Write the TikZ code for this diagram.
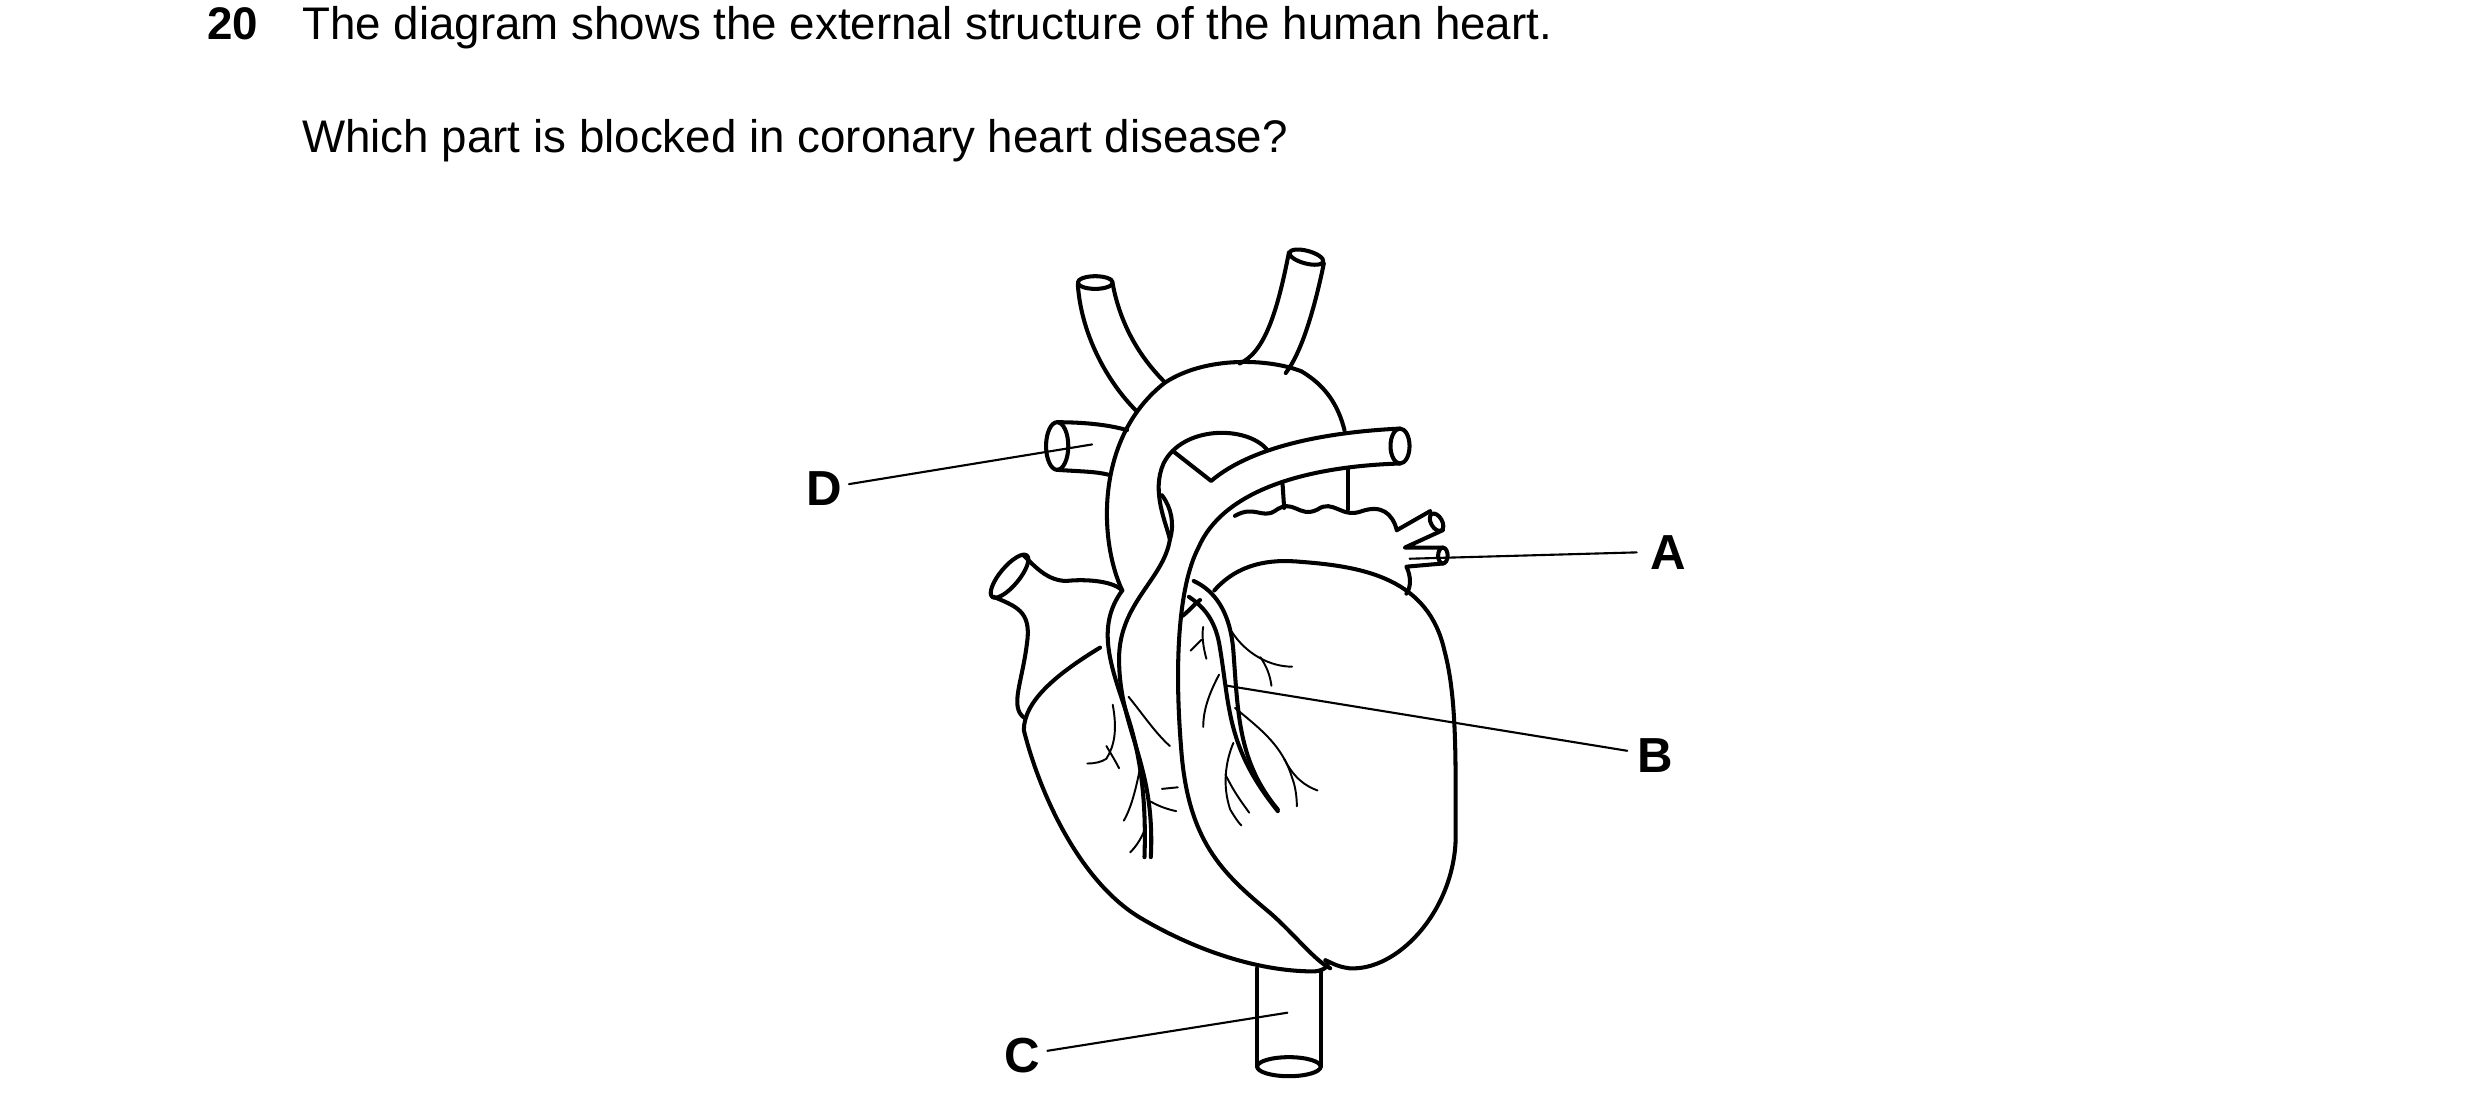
\documentclass[tikz,border=0pt]{standalone}
\usepackage{fontspec}
\setmainfont{Liberation Sans}
\usetikzlibrary{calc}

\begin{document}
\begin{tikzpicture}[
  x=0.015873cm, y=-0.015873cm,
  line join=round, line cap=round,
  ]
  \tikzstyle{outline}=[draw, line width=1.15pt]
  \tikzstyle{vein}=[draw, line width=0.55pt]
  \tikzstyle{pointer}=[draw, line width=0.6pt]
  \tikzstyle{letter}=[font=\fontsize{14}{16}\selectfont\bfseries, inner sep=1pt]
  \useasboundingbox (0,0) rectangle (1563,704);
  % question text
  \node(num)[anchor=base west, inner sep=0, font=\fontsize{13}{15}\selectfont\bfseries] at (130,25) {20};
  \node(q1)[anchor=base west, inner sep=0, font=\fontsize{13}{15}\selectfont] at (190,25) {The diagram shows the external structure of the human heart.};
  \node(q2)[anchor=base west, inner sep=0, font=\fontsize{13}{15}\selectfont] at (190,96) {Which part is blocked in coronary heart disease?};
  % vessels on top
  \draw[outline] (690,178) ellipse [x radius=11, y radius=4];
  \draw[outline] (679,179) .. controls (681,210) and (697,240) .. (716,259);
  \draw[outline] (701,179) .. controls (706,205) and (718,225) .. (734,241);
  \draw[outline, rotate around={-15:(823,162)}] (823,162) ellipse [x radius=11, y radius=4];
  \draw[outline] (812,159) .. controls (805,195) and (797,222) .. (781,229);
  \draw[outline] (834,166) .. controls (828,195) and (820,222) .. (810,235);
  % superior vena cava
  \draw[outline] (666,281) ellipse [x radius=7, y radius=15];
  \draw[outline] (666,266) .. controls (685,266) and (700,268) .. (710,271);
  \draw[outline] (666,296) .. controls (680,297) and (690,297) .. (698,299);
  % aorta
  \draw[outline] (707,372) .. controls (692,340) and (690,275) .. (734,241)
     .. controls (760,224) and (800,226) .. (820,234)
     .. controls (835,243) and (843,255) .. (847,271);
  \draw[outline] (798,283) .. controls (785,268) and (745,268) .. (733,292)
     .. controls (725,310) and (735,330) .. (737,340)
     .. controls (733,365) and (705,380) .. (705,415)
     .. controls (705,460) and (728,480) .. (725,540);
  \draw[outline] (707,372) .. controls (690,395) and (700,420) .. (710,450)
     .. controls (720,480) and (722,510) .. (721,540);
  \draw[outline] (732,312) .. controls (738,320) and (740,330) .. (737,340);
  % pulmonary artery
  \draw[outline] (740,285) -- (763,303) .. controls (790,280) and (840,272) .. (882,270);
  \draw[outline] (882,281) ellipse [x radius=6, y radius=11];
  \draw[outline] (882,292) .. controls (820,294) and (770,310) .. (755,345)
     .. controls (742,370) and (740,420) .. (744,470)
     .. controls (748,530) and (770,550) .. (800,575)
     .. controls (815,588) and (828,605) .. (838,610);
  \draw[outline] (849,295) -- (849,321);
  \draw[outline] (808,305) -- (809,320);
  % left atrium
  \draw[outline] (778,325) .. controls (790,318) and (795,327) .. (803,322)
     .. controls (815,313) and (818,327) .. (830,321)
     .. controls (840,314) and (845,327) .. (858,322)
     .. controls (870,318) and (877,323) .. (880,334);
  \draw[outline] (880,334) -- (901,322);
  \draw[outline, rotate around={30:(905,329)}] (905,329) ellipse [x radius=3.5, y radius=6];
  \draw[outline] (909,334) -- (885,345) -- (909,345);
  \draw[outline] (909,350) ellipse [x radius=3, y radius=5];
  \draw[outline] (909,355) -- (886,357) .. controls (889,363) and (889,370) .. (886,374);
  % left ventricle
  \draw[outline] (765,372) .. controls (780,355) and (800,352) .. (820,354)
     .. controls (860,357) and (900,365) .. (910,410)
     .. controls (918,440) and (917,480) .. (917,530)
     .. controls (915,575) and (880,612) .. (850,610)
     .. controls (842,609) and (838,606) .. (835,605);
  % right ventricle and atrium
  \draw[outline] (693,408) .. controls (665,425) and (645,442) .. (645,460)
     .. controls (655,500) and (680,555) .. (718,578)
     .. controls (750,597) and (790,612) .. (828,612)
     .. controls (838,611) and (838,605) .. (835,605);
  \draw[outline] (707,372) .. controls (700,365) and (680,365) .. (672,366)
     .. controls (660,366) and (652,357) .. (645,350);
  \draw[outline, rotate around={50:(636,363)}] (636,363) ellipse [x radius=17, y radius=6];
  \draw[outline] (626,376) .. controls (640,382) and (650,385) .. (647,405)
     .. controls (644,430) and (636,445) .. (645,452);
  % coronary arteries
  \draw[outline] (749,376) .. controls (758,382) and (765,390) .. (768,405)
     .. controls (775,445) and (772,470) .. (805,511);
  \draw[outline] (752,366) .. controls (765,372) and (775,385) .. (777,410)
     .. controls (780,450) and (780,480) .. (805,510);
  \draw[outline] (745,388) .. controls (750,384) and (753,380) .. (756,378);
  % small branches
  \draw[vein] (776,398) .. controls (785,412) and (800,420) .. (814,420);
  \draw[vein] (794,414) .. controls (798,420) and (800,425) .. (801,432);
  \draw[vein] (768,425) .. controls (760,440) and (758,450) .. (758,458);
  \draw[vein] (758,395) .. controls (757,400) and (758,408) .. (760,415);
  \draw[vein] (757,403) -- (750,410);
  \draw[vein] (778,446) .. controls (795,460) and (808,470) .. (814,490)
     .. controls (816,495) and (817,502) .. (817,508);
  \draw[vein] (809,478) .. controls (815,490) and (822,495) .. (830,498);
  \draw[vein] (777,468) .. controls (772,480) and (770,495) .. (775,510)
     .. controls (778,515) and (780,518) .. (782,520);
  \draw[vein] (772,488) .. controls (778,500) and (782,505) .. (787,512);
  \draw[vein] (701,444) .. controls (704,460) and (702,470) .. (697,478) .. controls (694,480) and (690,481) .. (685,481);
  \draw[vein] (697,470) .. controls (700,475) and (703,480) .. (705,484);
  \draw[vein] (711,439) .. controls (720,450) and (728,462) .. (737,470);
  \draw[vein] (718,485) .. controls (715,500) and (712,510) .. (708,517);
  \draw[vein] (725,505) .. controls (730,508) and (736,510) .. (741,511);
  \draw[vein] (732,497) -- (742,496);
  \draw[vein] (722,520) .. controls (720,527) and (716,533) .. (712,537);
  % inferior vena cava
  \draw[outline] (792,610) -- (792,672);
  \draw[outline] (832,612) -- (832,672);
  \draw[outline] (812,672) ellipse [x radius=20, y radius=6];
  % labels and pointers
  \node(D)[letter] at (519,308) {D};
  \node(A)[letter] at (1051,348) {A};
  \node(B)[letter] at (1043,476) {B};
  \node(C)[letter] at (644,665) {C};
  \coordinate(pD) at (688,280);
  \coordinate(pA) at (888,352);
  \coordinate(pB) at (773,432);
  \coordinate(pC) at (811,638);
  \draw[pointer] (D.east) ++(2,-3) -- (pD);
  \draw[pointer] (A.west) ++(-6,0) -- (pA);
  \draw[pointer] (B.west) ++(-4,-3) -- (pB);
  \draw[pointer] (C.east) ++(2,-3) -- (pC);
\end{tikzpicture}
\end{document}
